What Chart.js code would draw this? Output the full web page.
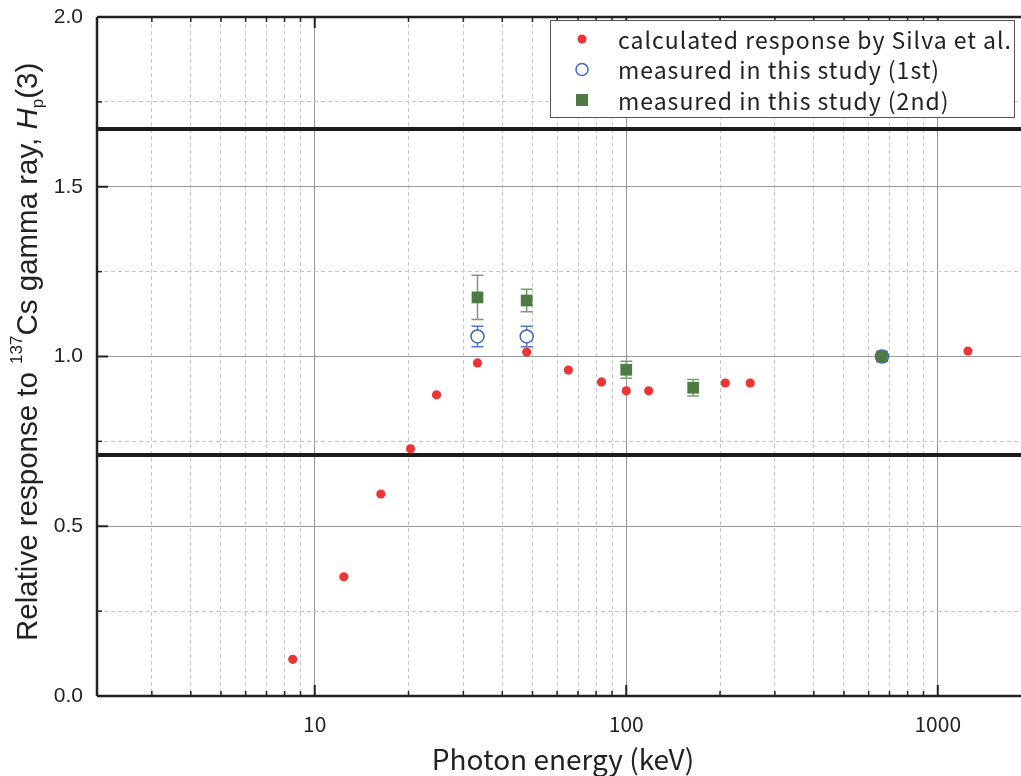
<!DOCTYPE html>
<html>
<head>
<meta charset="utf-8">
<script src="https://cdn.jsdelivr.net/npm/chart.js@4.4.0/dist/chart.umd.min.js"></script>
<style>
  body { margin: 0; background: #fff; }
  canvas { display: block; }
</style>
</head>
<body>
<canvas id="chart" width="1021" height="776"></canvas>
<script>
// calculated response (Silva et al.)
const calcEnergy = [8.5, 12.4, 16.3, 20.3, 24.6, 33.3, 47.9, 65.2, 83.3, 100, 118, 208, 250, 1250];
const calcResp   = [0.108, 0.351, 0.595, 0.728, 0.887, 0.981, 1.013, 0.960, 0.925, 0.899, 0.899, 0.922, 0.922, 1.016];

// measured, 1st
const firstEnergy = [33.3, 47.9, 662];
const firstResp   = [1.059, 1.059, 1.0];
const firstErr    = [0.030, 0.030, 0];

// measured, 2nd
const secondEnergy = [33.3, 47.9, 100, 164, 662];
const secondResp   = [1.174, 1.165, 0.961, 0.908, 1.0];
const secondErr    = [0.065, 0.033, 0.025, 0.024, 0.008];

const seriesNames = ['calculated response by Silva et al.', 'measured in this study (1st)', 'measured in this study (2nd)'];
const limitLines = [1.67, 0.71];

const xMin = 2, xMax = 1850;
const xTickVals = [2, 3, 4, 5, 6, 7, 8, 9, 10, 20, 30, 40, 50, 60, 70, 80, 90, 100, 200, 300, 400, 500, 600, 700, 800, 900, 1000];
const yTickVals = [0, 0.25, 0.5, 0.75, 1.0, 1.25, 1.5, 1.75, 2.0];

const RED = '#ee3535', BLUE = '#3d66bf', GREEN = '#4e7a44';
const isDecade = v => Math.abs(Math.log10(v) - Math.round(Math.log10(v))) < 1e-6;
const isHalf = v => Math.abs(v * 2 - Math.round(v * 2)) < 1e-6;
const pts = (xs, ys) => xs.map((x, i) => ({ x: x, y: ys[i] }));
const noPad = s => { s.paddingTop = 0; s.paddingBottom = 0; s.paddingLeft = 0; s.paddingRight = 0; };

const errorBars = {
  id: 'errorBars',
  beforeDatasetsDraw(chart) {
    const { ctx, scales: { x, y } } = chart;
    [[1, firstErr, '#5577c4'], [2, secondErr, '#7d9a74']].forEach(([idx, errs, color]) => {
      const ds = chart.data.datasets[idx];
      ctx.save();
      ctx.strokeStyle = color;
      ctx.lineWidth = 1.5;
      ds.data.forEach((p, i) => {
        const e = errs[i];
        if (!e) return;
        const px = x.getPixelForValue(p.x);
        const top = y.getPixelForValue(p.y + e), bot = y.getPixelForValue(p.y - e);
        ctx.beginPath();
        ctx.moveTo(px, top); ctx.lineTo(px, bot);
        ctx.moveTo(px - 6, top); ctx.lineTo(px + 6, top);
        ctx.moveTo(px - 6, bot); ctx.lineTo(px + 6, bot);
        ctx.stroke();
      });
      ctx.restore();
    });
  }
};

const frame = {
  id: 'frame',
  afterDraw(chart) {
    const { ctx, chartArea: a, scales: { x, y } } = chart;
    ctx.save();
    ctx.strokeStyle = '#222';
    // inward ticks
    x.ticks.forEach(t => {
      const px = x.getPixelForValue(t.value);
      const major = isDecade(t.value);
      const len = major ? 11 : 5;
      ctx.lineWidth = major ? 2 : 1.5;
      ctx.beginPath();
      ctx.moveTo(px, a.bottom); ctx.lineTo(px, a.bottom - len);
      ctx.moveTo(px, a.top); ctx.lineTo(px, a.top + len);
      ctx.stroke();
    });
    y.ticks.forEach(t => {
      const py = y.getPixelForValue(t.value);
      const major = isHalf(t.value);
      ctx.lineWidth = major ? 2 : 1.5;
      ctx.beginPath();
      ctx.moveTo(a.left, py); ctx.lineTo(a.left + (major ? 11 : 5), py);
      ctx.stroke();
    });
    // axes
    ctx.lineWidth = 2.5;
    ctx.beginPath();
    ctx.moveTo(a.left, a.top); ctx.lineTo(a.right, a.top);
    ctx.moveTo(a.left, a.top); ctx.lineTo(a.left, a.bottom);
    ctx.moveTo(a.left, a.bottom); ctx.lineTo(a.right, a.bottom);
    ctx.stroke();

    // x title
    ctx.fillStyle = '#222';
    ctx.font = '28px "Noto Sans CJK JP", sans-serif';
    ctx.textAlign = 'center';
    ctx.textBaseline = 'alphabetic';
    ctx.fillText('Photon energy (keV)', 563, 770);

    // y title, rotated, with super/subscripts
    ctx.save();
    ctx.translate(37, 641);
    ctx.rotate(-Math.PI / 2);
    ctx.textAlign = 'left';
    const big = '29.5px "Liberation Sans", Arial, sans-serif';
    const small = '17px "Liberation Sans", Arial, sans-serif';
    let cx = 0;
    const part = (txt, font, dy) => {
      ctx.font = font;
      ctx.fillText(txt, cx, dy);
      cx += ctx.measureText(txt).width;
    };
    part('Relative response to ', big, 0);
    part('137', small, -15);
    part('Cs gamma ray, ', big, 0);
    part('H', 'italic ' + big, 0);
    part('p', small, 6);
    part('(3)', big, 0);
    ctx.restore();

    // legend
    const lx = 550.5, ly = 20.5, lw = 464, lh = 97;
    ctx.fillStyle = '#fff';
    ctx.fillRect(lx, ly, lw, lh);
    ctx.lineWidth = 1;
    ctx.strokeStyle = '#555';
    ctx.strokeRect(lx, ly, lw, lh);
    ctx.font = '23px "Noto Sans CJK JP", sans-serif';
    ctx.letterSpacing = '1px';
    ctx.textAlign = 'left';
    ctx.textBaseline = 'middle';
    const rows = [39, 69.5, 100];
    const mx = 582;
    // red dot
    ctx.fillStyle = RED;
    ctx.beginPath(); ctx.arc(mx, rows[0], 4.5, 0, Math.PI * 2); ctx.fill();
    // blue circle
    ctx.strokeStyle = BLUE; ctx.lineWidth = 1.5;
    ctx.beginPath(); ctx.arc(mx, rows[1], 6, 0, Math.PI * 2); ctx.stroke();
    // green square
    ctx.fillStyle = GREEN;
    ctx.fillRect(mx - 6, rows[2] - 6, 12, 12);
    ctx.fillStyle = '#222';
    seriesNames.forEach((n, i) => ctx.fillText(n, 618, rows[i] + 1));
    ctx.restore();
  }
};

const datasets = [
  {
    label: seriesNames[0], data: pts(calcEnergy, calcResp), order: 2,
    pointRadius: 4.6, pointBackgroundColor: RED, pointBorderWidth: 0, showLine: false
  },
  {
    label: seriesNames[1], data: pts(firstEnergy, firstResp), order: 1,
    pointRadius: 6.5, pointBackgroundColor: '#fff', pointBorderColor: BLUE, pointBorderWidth: 1.5, showLine: false
  },
  {
    label: seriesNames[2], data: pts(secondEnergy, secondResp), order: 0,
    pointStyle: 'rect', pointRadius: 8.3, pointBackgroundColor: GREEN, pointBorderColor: GREEN, pointBorderWidth: 0, showLine: false
  }
];
limitLines.forEach(v => datasets.push({
  label: 'limit', data: [{ x: xMin, y: v }, { x: xMax, y: v }], order: 5,
  showLine: true, borderColor: '#1c1c1c', borderWidth: 4, pointRadius: 0
}));

new Chart(document.getElementById('chart'), {
  type: 'scatter',
  data: { datasets: datasets },
  options: {
    responsive: false,
    animation: false,
    devicePixelRatio: 1,
    layout: { autoPadding: false, padding: { top: 17, right: 0, left: 0, bottom: 0 } },
    plugins: { legend: { display: false }, tooltip: { enabled: false } },
    scales: {
      x: {
        type: 'logarithmic', min: xMin, max: xMax, bounds: 'data',
        afterBuildTicks: s => { s.ticks = xTickVals.map(v => ({ value: v })); },
        afterFit: s => { s.height = 80; noPad(s); },
        ticks: {
          autoSkip: false, maxRotation: 0, padding: 15, color: '#222',
          font: { family: '"Noto Sans CJK JP", sans-serif', size: 21 },
          callback: v => isDecade(v) ? String(v) : ''
        },
        grid: {
          drawTicks: false, lineWidth: 1,
          color: c => isDecade(c.tick.value) ? '#999' : '#c6c6c6'
        },
        border: { display: false, dash: c => isDecade(c.tick.value) ? [] : [4, 3] }
      },
      y: {
        min: 0, max: 2,
        afterBuildTicks: s => { s.ticks = yTickVals.map(v => ({ value: v })); },
        afterFit: s => { s.width = 97; noPad(s); },
        ticks: {
          autoSkip: false, padding: 14, color: '#222',
          font: { family: '"Liberation Sans", Arial, sans-serif', size: 21 },
          callback: v => isHalf(v) ? v.toFixed(1) : ''
        },
        grid: {
          drawTicks: false, lineWidth: 1,
          color: c => isHalf(c.tick.value) ? '#999' : '#c6c6c6'
        },
        border: { display: false, dash: c => isHalf(c.tick.value) ? [] : [4, 3] }
      }
    }
  },
  plugins: [errorBars, frame]
});
</script>
</body>
</html>
